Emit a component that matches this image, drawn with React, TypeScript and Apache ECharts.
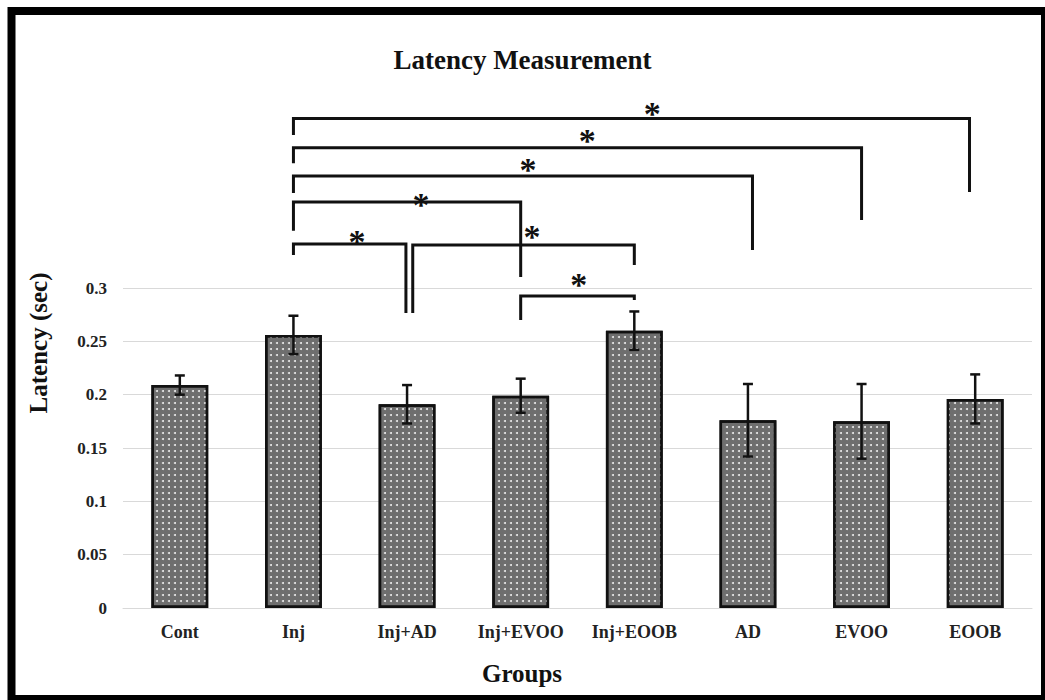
import React, { useEffect, useRef } from "react";
import * as echarts from "echarts";

const categories = ["Cont", "Inj", "Inj+AD", "Inj+EVOO", "Inj+EOOB", "AD", "EVOO", "EOOB"];
const means = [0.209, 0.256, 0.191, 0.199, 0.26, 0.176, 0.175, 0.196];
const errors = [0.009, 0.018, 0.018, 0.016, 0.018, 0.034, 0.035, 0.023];
const yTicks = { min: 0, max: 0.3, interval: 0.05 };

// significance brackets (category positions, data-valued heights)
const bracketLeft = [1, 1, 1, 1, 1, 2.05, 3];
const bracketRight = [6.95, 6, 5.04, 3, 1.99, 4, 4];
const bracketTop = [0.459, 0.4315, 0.405, 0.3806, 0.3413, 0.3403, 0.2925];
const bracketLeftEnd = [0.4434, 0.417, 0.389, 0.3537, 0.331, 0.2766, 0.27];
const bracketRightEnd = [0.39, 0.3638, 0.3356, 0.3103, 0.2766, 0.3216, 0.2888];
const starX = [4.157, 3.585, 3.065, 2.123, 1.56, 3.1, 3.51];
const starY = [0.4697, 0.4453, 0.4172, 0.3844, 0.3497, 0.3553, 0.3103];
const starLabel = "*";

const FONT = "'Liberation Serif', 'Times New Roman', serif";

export default function App() {
  const ref = useRef<HTMLDivElement>(null);
  useEffect(() => {
    document.body.style.margin = "0";
    const chart = echarts.init(ref.current!, undefined, { renderer: "svg" });

    const errData = means.map((m, i) => [i, m - errors[i], m + errors[i]]);
    const bracketData = bracketLeft.map((l, i) => [
      l, bracketRight[i], bracketTop[i], bracketLeftEnd[i], bracketRightEnd[i], starX[i], starY[i],
    ]);

    const catX = (api: any, v: number) => {
      const f = Math.floor(v);
      const band = api.size([1, 0])[0];
      return api.coord([f, 0])[0] + (v - f) * band;
    };
    const yPx = (api: any, v: number) => api.coord([0, v])[1];

    chart.setOption({
      animation: false,
      backgroundColor: "#ffffff",
      title: {
        text: "Latency Measurement",
        left: "center",
        top: 41,
        textStyle: { fontFamily: FONT, fontWeight: "bold", fontSize: 27, color: "#111" },
      },
      grid: { left: 123, right: 13, top: 288, bottom: 92 },
      xAxis: {
        type: "category",
        data: categories,
        axisTick: { show: false },
        axisLine: { lineStyle: { color: "#d9d9d9", width: 1 } },
        axisLabel: { fontFamily: FONT, fontWeight: "bold", fontSize: 18, color: "#222", margin: 15 },
      },
      yAxis: {
        type: "value",
        min: yTicks.min,
        max: yTicks.max,
        interval: yTicks.interval,
        axisLine: { show: false },
        axisTick: { show: false },
        splitLine: { lineStyle: { color: "#d9d9d9", width: 1 } },
        axisLabel: { fontFamily: FONT, fontWeight: "bold", fontSize: 17, color: "#222", margin: 16 },
      },
      graphic: [
        {
          type: "rect",
          shape: { x: 11.5, y: 11, width: 1033.5, height: 688 },
          style: { fill: "none", stroke: "#000", lineWidth: 8 },
          silent: true,
        },
        {
          type: "text",
          x: 38,
          y: 343,
          rotation: Math.PI / 2,
          style: {
            text: "Latency (sec)",
            font: `bold 25px ${FONT}`,
            fill: "#111",
            align: "center",
            verticalAlign: "middle",
          },
        },
        {
          type: "text",
          x: 522,
          y: 673,
          style: {
            text: "Groups",
            font: `bold 25px ${FONT}`,
            fill: "#111",
            align: "center",
            verticalAlign: "middle",
          },
        },
      ],
      series: [
        {
          type: "bar",
          data: means,
          barWidth: "50%",
          itemStyle: {
            color: "#6e6e6e",
            borderColor: "#111",
            borderWidth: 2.5,
            decal: {
              symbol: "circle",
              symbolSize: 1,
              color: "rgba(255,255,255,0.85)",
              dashArrayX: [2, 4],
              dashArrayY: [2, 4],
              rotation: 0,
            },
          },
          z: 2,
        },
        {
          type: "custom",
          data: errData,
          encode: { x: 0, y: [1, 2] },
          z: 5,
          renderItem: (params: any, api: any) => {
            const i = api.value(0);
            const lo = api.coord([i, api.value(1)]);
            const hi = api.coord([i, api.value(2)]);
            const cap = 5;
            const st = { stroke: "#111", lineWidth: 2.5 };
            return {
              type: "group",
              children: [
                { type: "line", shape: { x1: lo[0], y1: lo[1], x2: hi[0], y2: hi[1] }, style: st },
                { type: "line", shape: { x1: hi[0] - cap, y1: hi[1], x2: hi[0] + cap, y2: hi[1] }, style: st },
                { type: "line", shape: { x1: lo[0] - cap, y1: lo[1], x2: lo[0] + cap, y2: lo[1] }, style: st },
              ],
            };
          },
        },
        {
          type: "custom",
          data: bracketData,
          encode: { x: 0, y: 2 },
          clip: false,
          z: 6,
          renderItem: (params: any, api: any) => {
            const x1 = catX(api, api.value(0));
            const x2 = catX(api, api.value(1));
            const yt = yPx(api, api.value(2));
            const y1 = yPx(api, api.value(3));
            const y2 = yPx(api, api.value(4));
            const sx = catX(api, api.value(5));
            const sy = yPx(api, api.value(6));
            return {
              type: "group",
              children: [
                {
                  type: "polyline",
                  shape: { points: [[x1, y1], [x1, yt], [x2, yt], [x2, y2]] },
                  style: { stroke: "#111", lineWidth: 3, fill: "none" },
                },
                {
                  type: "text",
                  x: sx,
                  y: sy + 7,
                  style: {
                    text: starLabel,
                    font: `bold 34px ${FONT}`,
                    fill: "#111",
                    align: "center",
                    verticalAlign: "middle",
                  },
                },
              ],
            };
          },
        },
      ],
    });
    return () => chart.dispose();
  }, []);
  return <div ref={ref} style={{ width: 1045, height: 700 }} />;
}
